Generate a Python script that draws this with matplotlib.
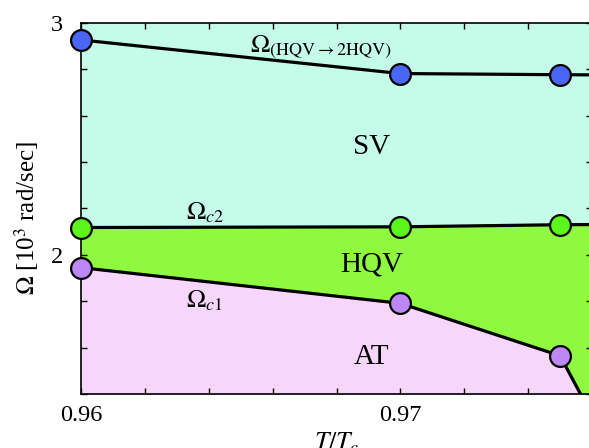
import numpy as np
import matplotlib
matplotlib.use("Agg")
import matplotlib.pyplot as plt
from matplotlib.ticker import MultipleLocator, FixedLocator

plt.rcParams['font.family'] = ['Liberation Serif', 'DejaVu Serif']
plt.rcParams['mathtext.fontset'] = 'stix'

# measured points (T/Tc, Omega in 10^3 rad/sec)
T = [0.96, 0.97, 0.975]
omega_2hqv = [2.927, 2.782, 2.777]
omega_c2 = [2.118, 2.121, 2.130]
omega_c1 = [1.945, 1.791, 1.565]

# line continuation past the last point
T_2hqv_ext = [0.975, 0.9765]
omega_2hqv_ext = [2.777, 2.776]
T_c2_ext = [0.975, 0.9765]
omega_c2_ext = [2.130, 2.131]
T_c1_ext = [0.975, 0.97564, 0.9765]
omega_c1_ext = [1.565, 1.40, 1.20]

c_sv = '#c4fbe9'
c_hqv = '#8ff942'
c_at = '#f6d6fa'

fig = plt.figure(figsize=(5.89, 4.48), dpi=100)
ax = fig.add_axes([81/589, 54/448, 511/589, 371/448])
ax.set_facecolor(c_sv)

x_c2 = T + T_c2_ext[1:]
y_c2 = omega_c2 + omega_c2_ext[1:]
x_c1 = T + T_c1_ext[1:]
y_c1 = omega_c1 + omega_c1_ext[1:]
x_2h = T + T_2hqv_ext[1:]
y_2h = omega_2hqv + omega_2hqv_ext[1:]

ax.fill_between(x_c2, y_c2, 1.0, color=c_hqv, lw=0)
ax.fill_between(x_c1, y_c1, 1.0, color=c_at, lw=0)

for xs, ys in [(x_2h, y_2h), (x_c2, y_c2), (x_c1, y_c1)]:
    ax.plot(xs, ys, color='black', lw=2.3, zorder=3)

ms = dict(ls='none', marker='o', ms=15, mec='black', mew=1.6, zorder=5, clip_on=False)
ax.plot(T, omega_2hqv, mfc='#4a66f7', **ms)
ax.plot(T, omega_c2, mfc='#5cf71a', **ms)
ax.plot(T, omega_c1, mfc='#bd87f5', **ms)

ax.set_xlim(0.96, 0.976)
ax.set_ylim(1.4, 3.0)
ax.xaxis.set_major_locator(FixedLocator([0.96, 0.97]))
ax.xaxis.set_minor_locator(MultipleLocator(0.002))
ax.yaxis.set_major_locator(FixedLocator([2, 3]))
ax.yaxis.set_minor_locator(MultipleLocator(0.2))
ax.set_xticklabels(['0.96', '0.97'])
ax.set_yticklabels(['2', '3'])
ax.tick_params(which='both', direction='in', top=True, right=True, width=1.0,
               labelsize=17.5)
ax.tick_params(axis='x', pad=8)
ax.tick_params(axis='y', pad=13)
ax.tick_params(which='major', length=4.5)
ax.tick_params(which='minor', length=4)
for s in ax.spines.values():
    s.set_linewidth(1.2)

ax.set_xlabel(r'$T/T_c$', fontsize=18.5, labelpad=3)
ax.set_ylabel(r'$\Omega$ [10$^3$ rad/sec]', fontsize=18)
ax.yaxis.set_label_coords(-0.079, 0.475)

ax.text(0.9691, 2.467, 'SV', fontsize=21, ha='center', va='center')
ax.text(0.9691, 1.959, 'HQV', fontsize=21, ha='center', va='center')
ax.text(0.9691, 1.559, 'AT', fontsize=21, ha='center', va='center')
ax.text(0.9653, 2.875, r'$\Omega_{(\mathrm{HQV}\rightarrow 2\mathrm{HQV})}$', fontsize=18.5,
        ha='left', va='baseline')
ax.text(0.9633, 2.153, r'$\Omega_{c2}$', fontsize=18.5, ha='left', va='baseline')
ax.text(0.9633, 1.774, r'$\Omega_{c1}$', fontsize=18.5, ha='left', va='baseline')

fig.savefig('out.png', dpi=100)
